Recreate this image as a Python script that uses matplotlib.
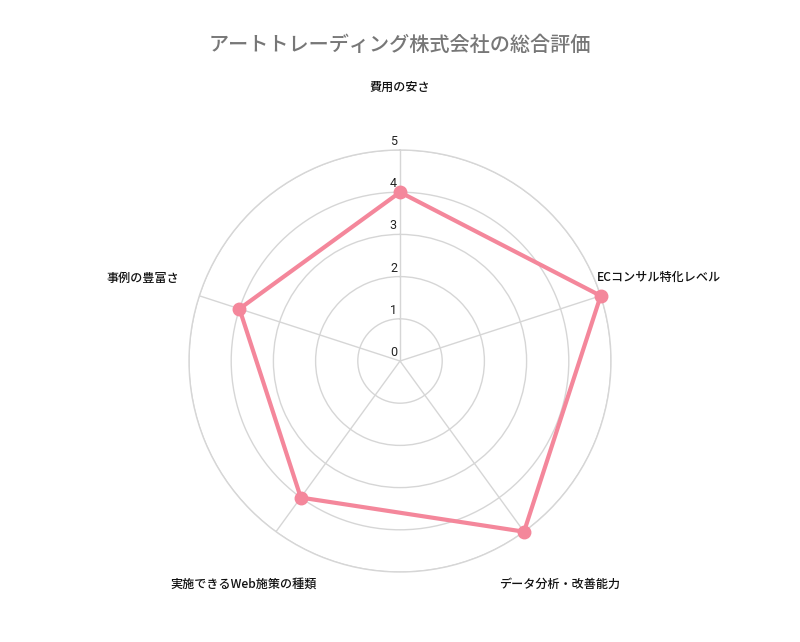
import numpy as np
import matplotlib
matplotlib.use("Agg")
import matplotlib.pyplot as plt

plt.rcParams['font.family'] = ['Noto Sans CJK JP', 'DejaVu Sans']

title = "アートトレーディング株式会社の総合評価"
categories = ["費用の安さ", "ECコンサル特化レベル", "データ分析・改善能力",
              "実施できるWeb施策の種類", "事例の豊富さ"]
scores = [4, 5, 5, 4, 4]
r_ticks = [0, 1, 2, 3, 4, 5]

# label offsets in pixels from the outer end of each spoke
label_offsets = [(0, 63), (-4, 18), (-25, -53), (41, -53), (-20, 17)]
label_ha = ["center", "left", "left", "right", "right"]

line_color = "#F4879B"
grid_color = "#D6D6D6"

fig = plt.figure(figsize=(8, 6.42), dpi=100)
R = 211
cx, cy = 400, 642 - 361
ax = fig.add_axes([(cx - R) / 800, (cy - R) / 642, 2 * R / 800, 2 * R / 642],
                  projection="polar")
ax.set_theta_zero_location("N")
ax.set_theta_direction(-1)
ax.set_ylim(0, 5)

n = len(categories)
angles = np.arange(n) * 2 * np.pi / n

ax.set_xticks(angles)
ax.set_xticklabels([])
ax.set_yticks(r_ticks[1:])
ax.set_yticklabels([])
ax.grid(True, color=grid_color, linewidth=1)
ax.spines['polar'].set_color(grid_color)
ax.spines['polar'].set_linewidth(1)

closed_a = np.append(angles, angles[0])
closed_s = np.append(scores, scores[0])
ax.plot(closed_a, closed_s, color=line_color, linewidth=3, zorder=5, clip_on=False)
ax.plot(angles, scores, 'o', color=line_color, markersize=9, zorder=6, clip_on=False)

for t in r_ticks:
    ax.annotate(str(t), xy=(0, t), xytext=(-3, 2), textcoords="offset pixels",
                ha="right", va="bottom", fontsize=9, color="#222222",
                family=["Roboto", "DejaVu Sans"], annotation_clip=False)

for a, lab, off, ha in zip(angles, categories, label_offsets, label_ha):
    ax.annotate(lab, xy=(a, 5), xytext=off, textcoords="offset pixels",
                ha=ha, va="center", fontsize=8.7, color="#111111",
                fontweight="medium", annotation_clip=False)

fig.text(0.5, 1 - 45 / 642, title, ha="center", va="center",
         fontsize=14.5, color="#777777", fontweight="medium")

fig.savefig("out.png", dpi=100)
